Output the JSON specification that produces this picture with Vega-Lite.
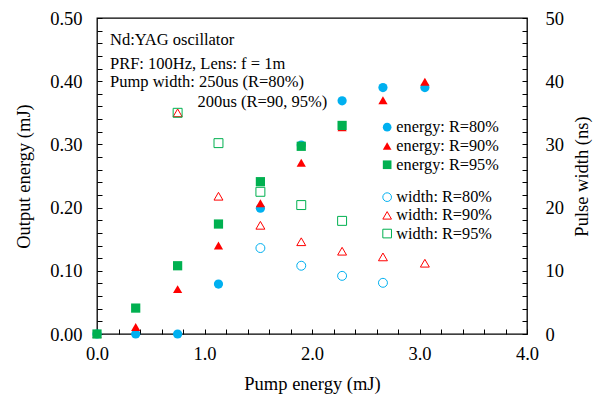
{
  "$schema": "https://vega.github.io/schema/vega-lite/v6.json",
  "width": 430,
  "height": 316,
  "autosize": {"type": "none"},
  "padding": {"left": 97, "top": 18, "right": 74, "bottom": 64},
  "background": "white",
  "config": {
    "font": "Liberation Serif",
    "view": {"stroke": "black", "strokeWidth": 1.3},
    "axis": {
      "grid": false,
      "domain": false,
      "ticks": true,
      "tickColor": "black",
      "tickWidth": 1,
      "tickOpacity": 1,
      "labelColor": "black",
      "titleColor": "black",
      "labelFont": "Liberation Serif",
      "titleFont": "Liberation Serif",
      "titleFontSize": 18.5,
      "titleFontWeight": "normal",
      "labelOverlap": false,
      "labelFlush": false
    },
    "legend": {
      "labelFont": "Liberation Serif",
      "labelFontSize": 16.3,
      "labelColor": "black"
    }
  },
  "datasets": {
    "energy": [
      {"pump": 0, "energy": 0, "series": "energy: R=80%"},
      {"pump": 0.36, "energy": 0, "series": "energy: R=80%"},
      {"pump": 0.75, "energy": 0, "series": "energy: R=80%"},
      {"pump": 1.13, "energy": 0.079, "series": "energy: R=80%"},
      {"pump": 1.52, "energy": 0.199, "series": "energy: R=80%"},
      {"pump": 1.9, "energy": 0.299, "series": "energy: R=80%"},
      {"pump": 2.28, "energy": 0.369, "series": "energy: R=80%"},
      {"pump": 2.66, "energy": 0.39, "series": "energy: R=80%"},
      {"pump": 3.05, "energy": 0.39, "series": "energy: R=80%"},
      {"pump": 0, "energy": 0, "series": "energy: R=90%"},
      {"pump": 0.36, "energy": 0.011, "series": "energy: R=90%"},
      {"pump": 0.75, "energy": 0.071, "series": "energy: R=90%"},
      {"pump": 1.13, "energy": 0.14, "series": "energy: R=90%"},
      {"pump": 1.52, "energy": 0.207, "series": "energy: R=90%"},
      {"pump": 1.9, "energy": 0.271, "series": "energy: R=90%"},
      {"pump": 2.28, "energy": 0.327, "series": "energy: R=90%"},
      {"pump": 2.66, "energy": 0.37, "series": "energy: R=90%"},
      {"pump": 3.05, "energy": 0.399, "series": "energy: R=90%"},
      {"pump": 0, "energy": 0, "series": "energy: R=95%"},
      {"pump": 0.36, "energy": 0.041, "series": "energy: R=95%"},
      {"pump": 0.75, "energy": 0.108, "series": "energy: R=95%"},
      {"pump": 1.13, "energy": 0.174, "series": "energy: R=95%"},
      {"pump": 1.52, "energy": 0.241, "series": "energy: R=95%"},
      {"pump": 1.9, "energy": 0.297, "series": "energy: R=95%"},
      {"pump": 2.28, "energy": 0.33, "series": "energy: R=95%"}
    ],
    "width": [
      {"pump": 1.52, "width": 13.6, "series": "width: R=80%"},
      {"pump": 1.9, "width": 10.8, "series": "width: R=80%"},
      {"pump": 2.28, "width": 9.2, "series": "width: R=80%"},
      {"pump": 2.66, "width": 8.1, "series": "width: R=80%"},
      {"pump": 0.75, "width": 35.0, "series": "width: R=90%"},
      {"pump": 1.13, "width": 21.8, "series": "width: R=90%"},
      {"pump": 1.52, "width": 17.2, "series": "width: R=90%"},
      {"pump": 1.9, "width": 14.6, "series": "width: R=90%"},
      {"pump": 2.28, "width": 13.1, "series": "width: R=90%"},
      {"pump": 2.66, "width": 12.2, "series": "width: R=90%"},
      {"pump": 3.05, "width": 11.2, "series": "width: R=90%"},
      {"pump": 0.75, "width": 35.0, "series": "width: R=95%"},
      {"pump": 1.13, "width": 30.2, "series": "width: R=95%"},
      {"pump": 1.52, "width": 22.5, "series": "width: R=95%"},
      {"pump": 1.9, "width": 20.4, "series": "width: R=95%"},
      {"pump": 2.28, "width": 17.9, "series": "width: R=95%"}
    ],
    "one": [{}]
  },
  "layer": [
    {
      "layer": [
        {
          "data": {"name": "energy"},
          "mark": {"type": "point", "filled": true, "size": 85, "opacity": 1, "strokeWidth": 0},
          "encoding": {
            "x": {
              "field": "pump", "type": "quantitative",
              "scale": {"domain": [0, 4], "nice": false},
              "axis": {
                "title": "Pump energy (mJ)",
                "values": [0, 0.2, 0.4, 0.6, 0.8, 1, 1.2, 1.4, 1.6, 1.8, 2, 2.2, 2.4, 2.6, 2.8, 3, 3.2, 3.4, 3.6, 3.8, 4],
                "labelExpr": "abs(datum.value - round(datum.value)) < 0.000001 ? format(datum.value, '.1f') : ''",
                "labelFontSize": 18.5,
                "labelOverlap": false,
                "ticks": true,
                "offset": -5,
                "tickSize": 5,
                "labelPadding": 10,
                "titlePadding": 12
              }
            },
            "y": {
              "field": "energy", "type": "quantitative",
              "scale": {"domain": [0, 0.5], "nice": false},
              "axis": {
                "title": "Output energy (mJ)",
                "orient": "left",
                "values": [0, 0.02, 0.04, 0.06, 0.08, 0.1, 0.12, 0.14, 0.16, 0.18, 0.2, 0.22, 0.24, 0.26, 0.28, 0.3, 0.32, 0.34, 0.36, 0.38, 0.4, 0.42, 0.44, 0.46, 0.48, 0.5],
                "labelExpr": "abs(datum.value*10 - round(datum.value*10)) < 0.000001 ? format(datum.value, '.2f') : ''",
                "labelFontSize": 18.5,
                "labelOverlap": false,
                "ticks": true,
                "offset": -5,
                "tickSize": 5,
                "labelPadding": 15,
                "titlePadding": 16
              }
            },
            "fill": {
              "field": "series", "type": "nominal",
              "scale": {"domain": ["energy: R=80%", "energy: R=90%", "energy: R=95%"], "range": ["#00B0F0", "#FF0000", "#00B050"]},
              "legend": {
                "title": null,
                "orient": "none",
                "legendX": 282,
                "legendY": 101,
                "symbolSize": 75,
                "symbolStrokeWidth": 0,
                "rowPadding": 1.8,
                "labelOffset": 1
              }
            },
            "shape": {
              "field": "series", "type": "nominal",
              "scale": {"domain": ["energy: R=80%", "energy: R=90%", "energy: R=95%"], "range": ["circle", "triangle-up", "square"]},
              "legend": {
                "title": null,
                "orient": "none",
                "legendX": 282,
                "legendY": 101,
                "symbolSize": 75,
                "symbolStrokeWidth": 0,
                "rowPadding": 1.8,
                "labelOffset": 1
              }
            }
          }
        },
        {
          "data": {"name": "one"},
          "mark": {"type": "text", "text": "Nd:YAG oscillator", "align": "left", "baseline": "alphabetic", "fontSize": 16.5, "font": "Liberation Serif", "color": "black"},
          "encoding": {
            "x": {"datum": 0.121, "type": "quantitative", "axis": {"title": "Pump energy (mJ)", "values": [0, 0.2, 0.4, 0.6, 0.8, 1, 1.2, 1.4, 1.6, 1.8, 2, 2.2, 2.4, 2.6, 2.8, 3, 3.2, 3.4, 3.6, 3.8, 4], "labelExpr": "abs(datum.value - round(datum.value)) < 0.000001 ? format(datum.value, '.1f') : ''", "labelFontSize": 18.5, "labelOverlap": false, "ticks": true, "offset": -5, "tickSize": 5, "labelPadding": 10, "titlePadding": 12}},
            "y": {"datum": 0.458, "type": "quantitative", "axis": {"title": "Output energy (mJ)", "orient": "left", "values": [0, 0.02, 0.04, 0.06, 0.08, 0.1, 0.12, 0.14, 0.16, 0.18, 0.2, 0.22, 0.24, 0.26, 0.28, 0.3, 0.32, 0.34, 0.36, 0.38, 0.4, 0.42, 0.44, 0.46, 0.48, 0.5], "labelExpr": "abs(datum.value*10 - round(datum.value*10)) < 0.000001 ? format(datum.value, '.2f') : ''", "labelFontSize": 18.5, "labelOverlap": false, "ticks": true, "offset": -5, "tickSize": 5, "labelPadding": 15, "titlePadding": 16}}
          }
        },
        {
          "data": {"name": "one"},
          "mark": {"type": "text", "text": "PRF: 100Hz, Lens: f = 1m", "align": "left", "baseline": "alphabetic", "fontSize": 16.5, "font": "Liberation Serif", "color": "black"},
          "encoding": {
            "x": {"datum": 0.121, "type": "quantitative", "axis": {"title": "Pump energy (mJ)", "values": [0, 0.2, 0.4, 0.6, 0.8, 1, 1.2, 1.4, 1.6, 1.8, 2, 2.2, 2.4, 2.6, 2.8, 3, 3.2, 3.4, 3.6, 3.8, 4], "labelExpr": "abs(datum.value - round(datum.value)) < 0.000001 ? format(datum.value, '.1f') : ''", "labelFontSize": 18.5, "labelOverlap": false, "ticks": true, "offset": -5, "tickSize": 5, "labelPadding": 10, "titlePadding": 12}},
            "y": {"datum": 0.42, "type": "quantitative", "axis": {"title": "Output energy (mJ)", "orient": "left", "values": [0, 0.02, 0.04, 0.06, 0.08, 0.1, 0.12, 0.14, 0.16, 0.18, 0.2, 0.22, 0.24, 0.26, 0.28, 0.3, 0.32, 0.34, 0.36, 0.38, 0.4, 0.42, 0.44, 0.46, 0.48, 0.5], "labelExpr": "abs(datum.value*10 - round(datum.value*10)) < 0.000001 ? format(datum.value, '.2f') : ''", "labelFontSize": 18.5, "labelOverlap": false, "ticks": true, "offset": -5, "tickSize": 5, "labelPadding": 15, "titlePadding": 16}}
          }
        },
        {
          "data": {"name": "one"},
          "mark": {"type": "text", "text": "Pump width: 250us (R=80%)", "align": "left", "baseline": "alphabetic", "fontSize": 16.5, "font": "Liberation Serif", "color": "black"},
          "encoding": {
            "x": {"datum": 0.121, "type": "quantitative", "axis": {"title": "Pump energy (mJ)", "values": [0, 0.2, 0.4, 0.6, 0.8, 1, 1.2, 1.4, 1.6, 1.8, 2, 2.2, 2.4, 2.6, 2.8, 3, 3.2, 3.4, 3.6, 3.8, 4], "labelExpr": "abs(datum.value - round(datum.value)) < 0.000001 ? format(datum.value, '.1f') : ''", "labelFontSize": 18.5, "labelOverlap": false, "ticks": true, "offset": -5, "tickSize": 5, "labelPadding": 10, "titlePadding": 12}},
            "y": {"datum": 0.391, "type": "quantitative", "axis": {"title": "Output energy (mJ)", "orient": "left", "values": [0, 0.02, 0.04, 0.06, 0.08, 0.1, 0.12, 0.14, 0.16, 0.18, 0.2, 0.22, 0.24, 0.26, 0.28, 0.3, 0.32, 0.34, 0.36, 0.38, 0.4, 0.42, 0.44, 0.46, 0.48, 0.5], "labelExpr": "abs(datum.value*10 - round(datum.value*10)) < 0.000001 ? format(datum.value, '.2f') : ''", "labelFontSize": 18.5, "labelOverlap": false, "ticks": true, "offset": -5, "tickSize": 5, "labelPadding": 15, "titlePadding": 16}}
          }
        },
        {
          "data": {"name": "one"},
          "mark": {"type": "text", "text": "200us (R=90, 95%)", "align": "left", "baseline": "alphabetic", "fontSize": 16.5, "font": "Liberation Serif", "color": "black"},
          "encoding": {
            "x": {"datum": 0.934, "type": "quantitative", "axis": {"title": "Pump energy (mJ)", "values": [0, 0.2, 0.4, 0.6, 0.8, 1, 1.2, 1.4, 1.6, 1.8, 2, 2.2, 2.4, 2.6, 2.8, 3, 3.2, 3.4, 3.6, 3.8, 4], "labelExpr": "abs(datum.value - round(datum.value)) < 0.000001 ? format(datum.value, '.1f') : ''", "labelFontSize": 18.5, "labelOverlap": false, "ticks": true, "offset": -5, "tickSize": 5, "labelPadding": 10, "titlePadding": 12}},
            "y": {"datum": 0.359, "type": "quantitative", "axis": {"title": "Output energy (mJ)", "orient": "left", "values": [0, 0.02, 0.04, 0.06, 0.08, 0.1, 0.12, 0.14, 0.16, 0.18, 0.2, 0.22, 0.24, 0.26, 0.28, 0.3, 0.32, 0.34, 0.36, 0.38, 0.4, 0.42, 0.44, 0.46, 0.48, 0.5], "labelExpr": "abs(datum.value*10 - round(datum.value*10)) < 0.000001 ? format(datum.value, '.2f') : ''", "labelFontSize": 18.5, "labelOverlap": false, "ticks": true, "offset": -5, "tickSize": 5, "labelPadding": 15, "titlePadding": 16}}
          }
        }
      ]
    },
    {
      "data": {"name": "width"},
      "mark": {"type": "point", "filled": false, "size": 80, "strokeWidth": 1, "opacity": 1},
      "encoding": {
        "x": {"field": "pump", "type": "quantitative", "axis": {"title": "Pump energy (mJ)", "values": [0, 0.2, 0.4, 0.6, 0.8, 1, 1.2, 1.4, 1.6, 1.8, 2, 2.2, 2.4, 2.6, 2.8, 3, 3.2, 3.4, 3.6, 3.8, 4], "labelExpr": "abs(datum.value - round(datum.value)) < 0.000001 ? format(datum.value, '.1f') : ''", "labelFontSize": 18.5, "labelOverlap": false, "ticks": true, "offset": -5, "tickSize": 5, "labelPadding": 10, "titlePadding": 12}},
        "y": {
          "field": "width", "type": "quantitative",
          "scale": {"domain": [0, 50], "nice": false},
          "axis": {
            "title": "Pulse width (ns)",
            "orient": "right",
            "titleAngle": 270,
            "titleBaseline": "top",
            "values": [0, 2, 4, 6, 8, 10, 12, 14, 16, 18, 20, 22, 24, 26, 28, 30, 32, 34, 36, 38, 40, 42, 44, 46, 48, 50],
            "labelExpr": "datum.value % 10 === 0 ? format(datum.value, 'd') : ''",
            "labelFontSize": 18.5,
            "labelOverlap": false,
            "ticks": true,
            "offset": -5,
            "tickSize": 5,
            "labelPadding": 18,
            "titlePadding": 9
          }
        },
        "stroke": {
          "field": "series", "type": "nominal",
          "scale": {"domain": ["width: R=80%", "width: R=90%", "width: R=95%"], "range": ["#00B0F0", "#FF0000", "#00B050"]},
          "legend": {
            "title": null,
            "orient": "none",
            "legendX": 282,
            "legendY": 171,
            "symbolSize": 75,
            "symbolStrokeWidth": 1,
            "symbolFillColor": "transparent",
            "rowPadding": 1.2,
            "labelOffset": 1
          }
        },
        "shape": {
          "field": "series", "type": "nominal",
          "scale": {"domain": ["width: R=80%", "width: R=90%", "width: R=95%"], "range": ["circle", "triangle-up", "square"]},
          "legend": {
            "title": null,
            "orient": "none",
            "legendX": 282,
            "legendY": 171,
            "symbolSize": 75,
            "symbolStrokeWidth": 1,
            "symbolFillColor": "transparent",
            "rowPadding": 1.2,
            "labelOffset": 1
          }
        }
      }
    }
  ],
  "resolve": {"scale": {"y": "independent", "shape": "independent", "fill": "independent", "stroke": "independent"}}
}
